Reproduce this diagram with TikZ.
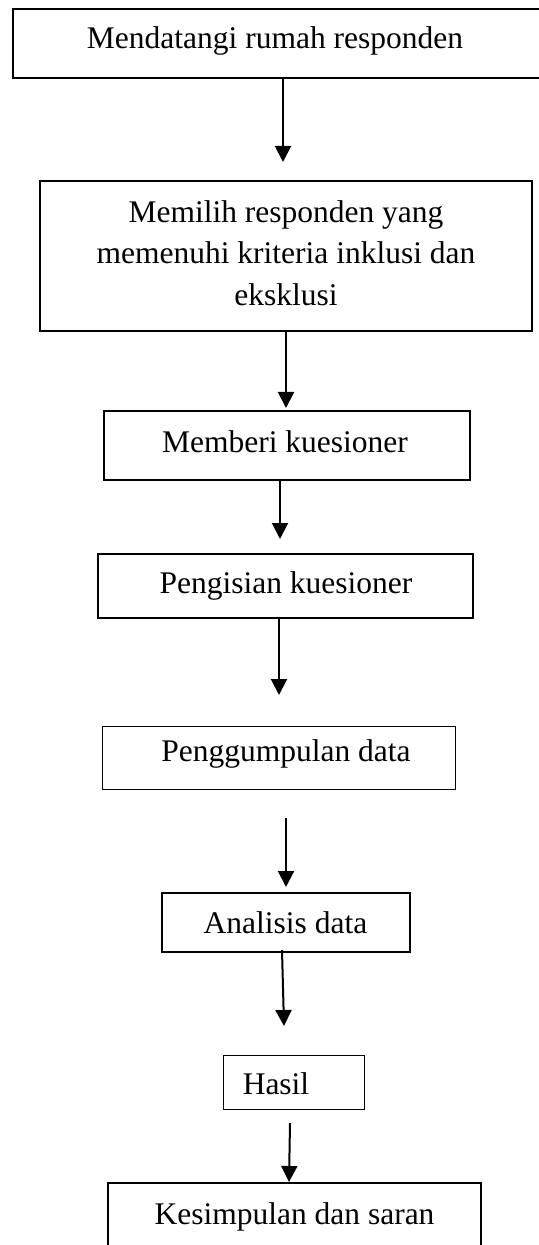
\documentclass[tikz,border=0pt]{standalone}
\usepackage{fontspec}
\setmainfont{Liberation Serif}
\usetikzlibrary{arrows.meta}
\begin{document}
\begin{tikzpicture}[x=0.5pt,y=-0.5pt,
  box/.style={draw, rectangle, line width=0.85pt, inner sep=0pt},
  thinbox/.style={box, line width=0.5pt},
  txt/.style={inner sep=0pt, font=\fontsize{15.75pt}{20.75pt}\selectfont, anchor=base},
  arr/.style={line width=1pt, -{Triangle[length=8pt,width=8pt]}}]
\useasboundingbox[fill=white] (0,0) rectangle (539,1245);

% boxes
\node[box, minimum width=266pt, minimum height=34.5pt] (b1) at (279,43.5) {};
\node[box, minimum width=246pt, minimum height=75pt] (b2) at (286,256) {};
\node[box, minimum width=183pt, minimum height=34.5pt] (b3) at (287,445.5) {};
\node[box, minimum width=187.5pt, minimum height=32pt] (b4) at (285.5,586) {};
\node[thinbox, minimum width=176.5pt, minimum height=31.5pt] (b5) at (278.5,757.5) {};
\node[box, minimum width=124pt, minimum height=29.5pt] (b6) at (286,922.5) {};
\node[thinbox, minimum width=70.5pt, minimum height=27pt] (b7) at (293.5,1082) {};
\node[box, minimum width=186.5pt, minimum height=46pt] (b8) at (294.5,1229) {};

% texts
\node[txt] (t1) at (275,49) {Mendatangi rumah responden};
\node[txt, anchor=center, align=center] (t2) at (286,252.75) {Memilih responden yang\\memenuhi kriteria inklusi dan\\eksklusi};
\node[txt] (t3) at (285,452) {Memberi kuesioner};
\node[txt] (t4) at (286,593) {Pengisian kuesioner};
\node[txt] (t5) at (286,761) {Penggumpulan data};
\node[txt] (t6) at (285.5,933) {Analisis data};
\node[txt] (t7) at (276,1094) {Hasil};
\node[txt] (t8) at (294.5,1224) {Kesimpulan dan saran};

% arrow ends
\coordinate (e1) at (283,162);
\coordinate (e2) at (286,408);
\coordinate (e3) at (280,539);
\coordinate (e4) at (279,695);
\coordinate (s5) at (286,818);
\coordinate (e5) at (286,887);
\coordinate (s6) at (282,950);
\coordinate (e6) at (284,1026);
\coordinate (s7) at (290,1123);
\coordinate (e7) at (289,1182);

\draw[arr] (b1.south -| e1) -- (e1);
\draw[arr] (b2.south -| e2) -- (e2);
\draw[arr] (b3.south -| e3) -- (e3);
\draw[arr] (b4.south -| e4) -- (e4);
\draw[arr] (s5) -- (e5);
\draw[arr] (s6) -- (e6);
\draw[arr] (s7) -- (e7);
\end{tikzpicture}
\end{document}
